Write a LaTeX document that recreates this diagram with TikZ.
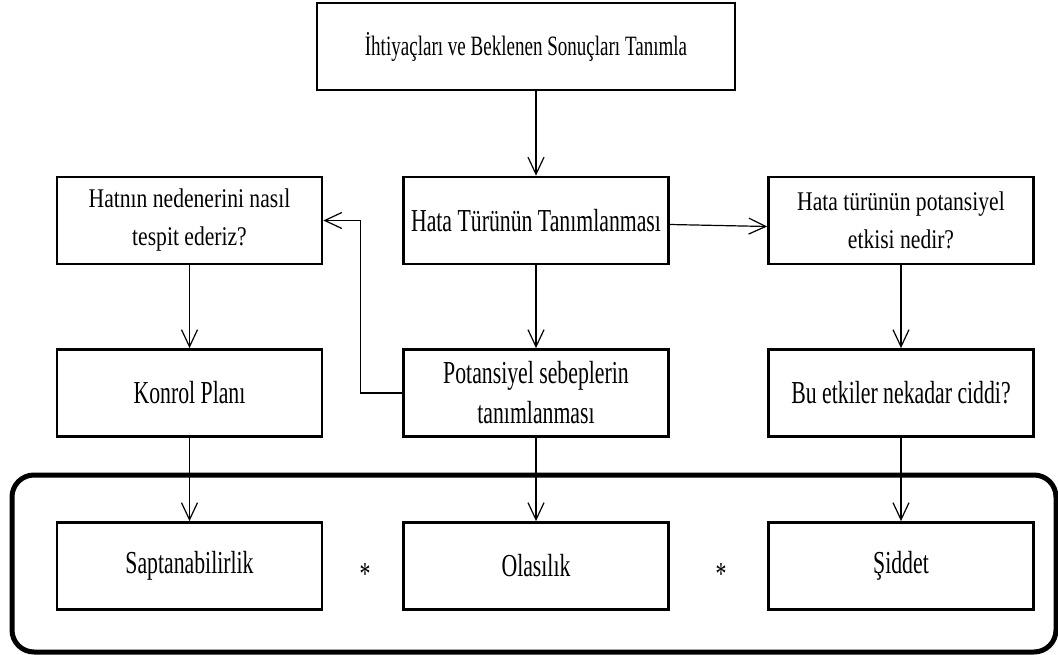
\documentclass[tikz,border=0pt]{standalone}
\usepackage{fontspec}
\setmainfont{Liberation Serif}[FakeStretch=0.68]
\newfontfamily\sidefont{Liberation Serif}[FakeStretch=0.8]
\usetikzlibrary{%
        arrows.meta
    }
\tikzset{
    box/.style={draw, line width=2.8pt, fill=white, minimum width=265pt,
        minimum height=87pt, inner sep=0pt, align=center,
        font=\fontsize{32}{40}\selectfont},
    topbox/.style={box, font=\fontsize{28}{36}\selectfont},
    sidebox/.style={box, font=\sidefont\fontsize{27}{38}\selectfont},
    group/.style={draw, line width=5pt, rounded corners=22pt,
        minimum width=1044pt, minimum height=177pt, inner sep=0pt},
    link/.style={-{Straight Barb[length=17pt, width=16pt]}, line width=1.2pt},
    times/.style={anchor=base, inner sep=0pt, font=\fontsize{32}{32}\selectfont}
}

\begin{document}
\begin{tikzpicture}[x=1pt, y=-1pt]
    \useasboundingbox (0, 0) rectangle (1058, 655);
    \node[group] (risk) at (534, 563.5) {};

    \node[topbox, minimum width=418pt] (need) at (526, 46.5) {İhtiyaçları ve
        Beklenen Sonuçları Tanımla};
    \node[sidebox] (neden) at (189.5, 220.5) {Hatnın nedenerini nasıl\\
        tespit ederiz?};
    \node[box] (hata) at (536, 220.5) {Hata Türünün Tanımlanması};
    \node[sidebox] (etki) at (901, 220.5) {Hata türünün potansiyel\\
        etkisi nedir?};
    \node[box] (kontrol) at (189.5, 393) {Konrol Planı};
    \node[box] (sebep) at (536, 393) {Potansiyel sebeplerin\\ tanımlanması};
    \node[box] (ciddi) at (901, 393) {Bu etkiler nekadar ciddi?};
    \node[box] (sapt) at (189.5, 566) {Saptanabilirlik};
    \node[box] (olas) at (536, 566) {Olasılık};
    \node[box] (siddet) at (901, 566) {Şiddet};
    \node[times] (star1) at (365, 584) {*};
    \node[times] (star2) at (721, 584) {*};

    \draw[link] (need.south -| hata.north) -- (hata);
    \draw[link] (hata) -- (sebep);
    \draw[link] ([yshift=-4pt]hata.east) -- ([yshift=-6pt]etki.west);
    \draw[link] (sebep.west) -- ++(-42, 0) |- (neden.east);
    \draw[link] (neden) -- (kontrol);
    \draw[link] (kontrol) -- (sapt);
    \draw[link] (sebep) -- (olas);
    \draw[link] (etki) -- (ciddi);
    \draw[link] (ciddi) -- (siddet);
\end{tikzpicture}
\end{document}
